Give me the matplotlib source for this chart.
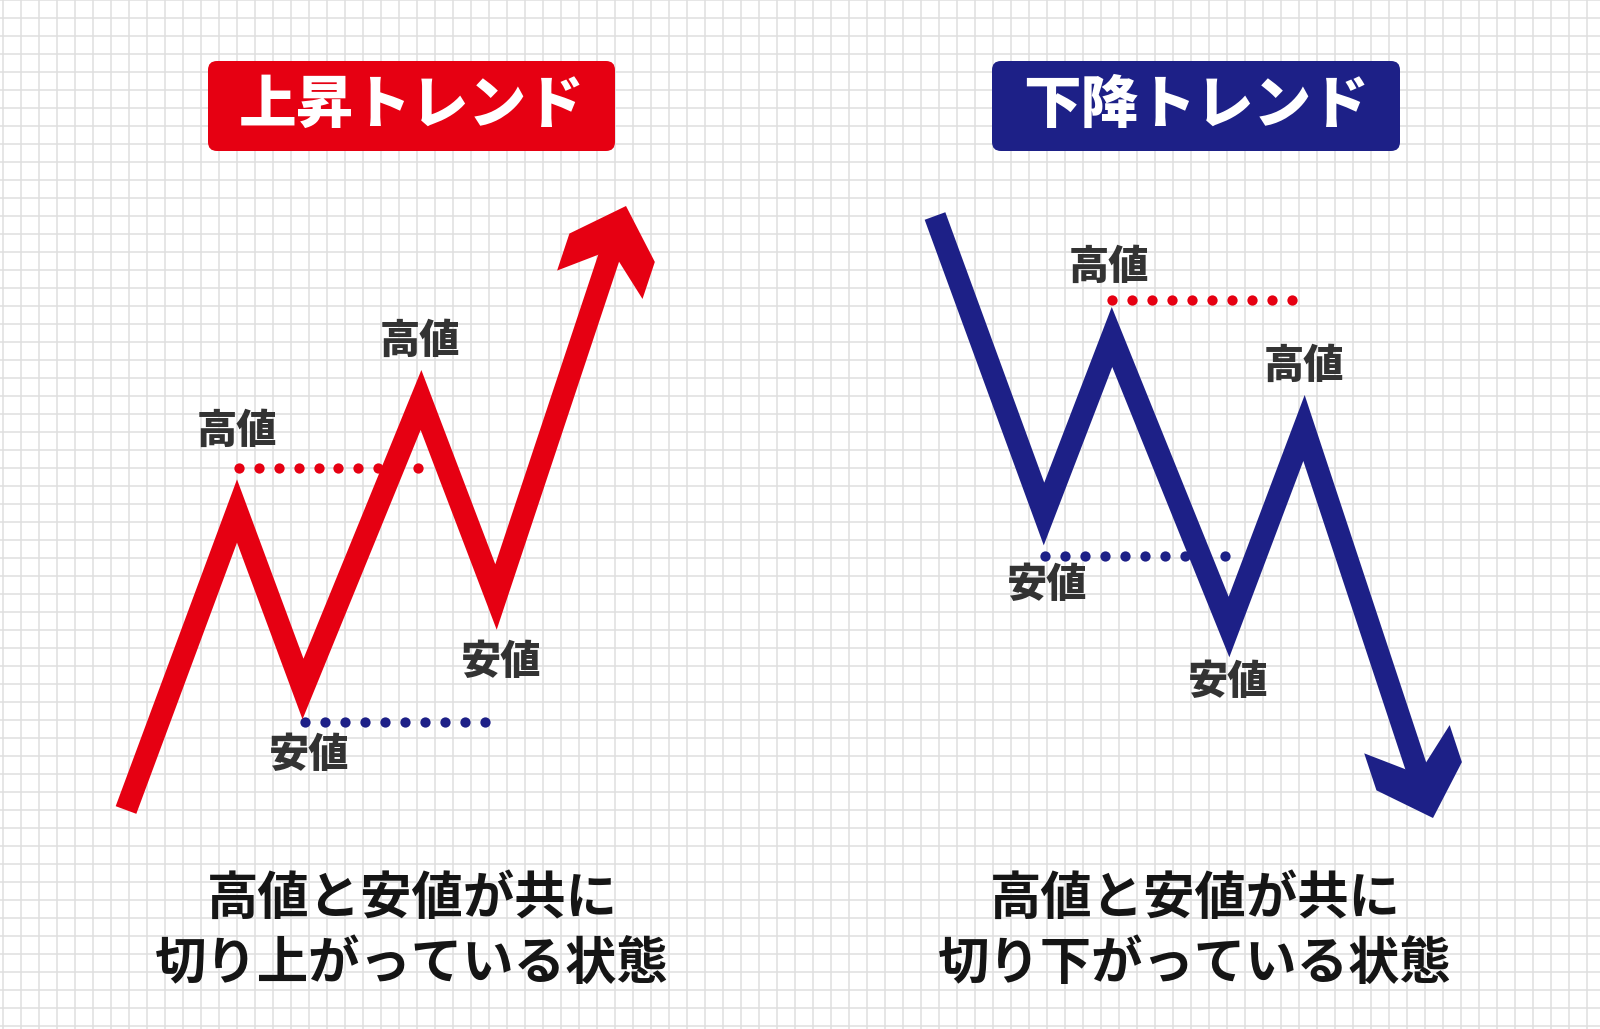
import numpy as np
import matplotlib.pyplot as plt
from matplotlib.patches import FancyBboxPatch, Polygon

plt.rcParams['font.family'] = ['Noto Sans CJK JP', 'DejaVu Sans']

RED = '#e60012'
NAVY = '#1d2087'
LABEL_GRAY = '#333333'

# zigzag vertices (pixel space, y grows downward); last point is the arrow tip
up_x = [126, 237, 303, 421, 496, 626]
up_y = [810, 511, 689, 400, 597, 206]
down_x = [935, 1044, 1112, 1229, 1304, 1433]
down_y = [216, 514, 337, 627, 428, 818]

# dotted guide levels: (y, x start, x end)
guide_y = [468, 722, 300, 556]
guide_x0 = [239, 305, 1112, 1045]
guide_x1 = [418, 485, 1292, 1225]
guide_color = [RED, NAVY, RED, NAVY]

titles = ['上昇トレンド', '下降トレンド']
captions = ['高値と安値が共に\n切り上がっている状態',
            '高値と安値が共に\n切り下がっている状態']

point_labels = ['高値', '高値', '安値', '安値', '高値', '高値', '安値', '安値']
label_x = [237, 420, 309, 501, 1109, 1304, 1047, 1228]
label_y = [431, 341, 755, 662, 267, 366, 585, 682]

LW = 22 * 0.72  # 22 px wide stroke


def draw_trend(ax, xs, ys, color):
    xs = np.asarray(xs, float)
    ys = np.asarray(ys, float)
    tip = np.array([xs[-1], ys[-1]])
    prev = np.array([xs[-2], ys[-2]])
    u = (tip - prev) / np.hypot(*(tip - prev))
    v = np.array([-u[1], u[0]])
    # stop the shaft inside the arrow head
    shaft_end = tip - 40 * u
    px = np.r_[xs[:-1], shaft_end[0]]
    py = np.r_[ys[:-1], shaft_end[1]]
    ax.plot(px, py, color=color, lw=LW, solid_joinstyle='miter',
            solid_capstyle='butt', zorder=3)
    head = [(0, 0), (-44, 45), (-83, 45), (-46, 0), (-83, -45), (-44, -45)]
    pts = [tip + a * u + b * v for a, b in head]
    ax.add_patch(Polygon(pts, closed=True, facecolor=color,
                         edgecolor='none', zorder=3))


fig = plt.figure(figsize=(16, 10.29), dpi=100)
ax = fig.add_axes([0, 0, 1, 1])
ax.set_xlim(0, 1600)
ax.set_ylim(1029, 0)
ax.axis('off')

# graph paper background
for gx in np.arange(2.7, 1600, 18):
    ax.axvline(gx, color='#dfdfdf', lw=1.1, zorder=0)
for gy in np.arange(-0.5, 1029, 18):
    ax.axhline(gy, color='#dfdfdf', lw=1.1, zorder=0)

# title boxes
for (bx, bw, col), title in zip([(208, 407, RED), (992, 408, NAVY)], titles):
    ax.add_patch(FancyBboxPatch((bx, 61), bw, 90,
                                boxstyle='round,pad=0,rounding_size=9',
                                facecolor=col, edgecolor='none', zorder=4))
    ax.text(bx + bw / 2, 106, title, color='white', fontsize=41.5,
            fontweight='black', ha='center', va='center', zorder=5)

# dotted guides
for y, x0, x1, col in zip(guide_y, guide_x0, guide_x1, guide_color):
    dx = np.linspace(x0, x1, 10)
    ax.plot(dx, np.full_like(dx, y), 'o', ms=7.4, color=col,
            mec='none', zorder=2)

draw_trend(ax, up_x, up_y, RED)
draw_trend(ax, down_x, down_y, NAVY)

for txt, lx, ly in zip(point_labels, label_x, label_y):
    ax.text(lx, ly, txt, color=LABEL_GRAY, fontsize=29, fontweight='black',
            ha='center', va='center', zorder=5)

for cx, cap in zip([412, 1195], captions):
    ax.text(cx, 931, cap, color='#151515', fontsize=37, fontweight='bold',
            ha='center', va='center', linespacing=1.3, zorder=5)

fig.savefig('out.png', dpi=100, facecolor='white')
